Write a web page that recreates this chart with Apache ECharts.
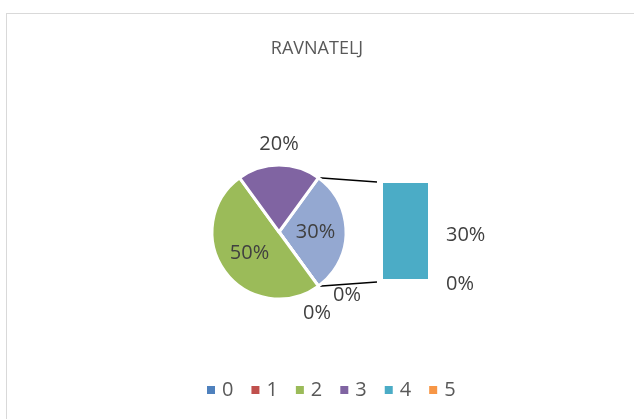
<!DOCTYPE html>
<html><head><meta charset="utf-8">
<script src="https://cdn.jsdelivr.net/npm/echarts@6/dist/echarts.min.js"></script>
<style>
html,body{margin:0;padding:0;background:#fff}
#wrap{position:relative;width:634px;height:419px;overflow:hidden}
#c{width:634px;height:419px}
#frame{position:absolute;left:6px;top:13px;width:700px;height:500px;border:1px solid #d9d9d9;pointer-events:none}
</style>
</head><body><div id="wrap"><div id="c"></div><div id="frame"></div></div>
<script>
// ---- data ----
const categories = ['0', '1', '2', '3', '4', '5'];
const values = [0, 0, 50, 20, 30, 0];           // percent
const secondPlotCats = ['4', '5'];              // split off into the bar
const colors = ['#4F81BD', '#C0504D', '#9BBB59', '#8064A2', '#4BACC6', '#F79646'];
const otherColor = '#94A8D1';
const titleText = 'RAVNATELJ';

// ---- layout ----
const cx = 279, cy = 232, R = 67;
const gLeft = 383, gTop = 183, gW = 45, gH = 96;

const firstIdx = categories.map((c, i) => i).filter(i => !secondPlotCats.includes(categories[i]));
const secondIdx = categories.map((c, i) => i).filter(i => secondPlotCats.includes(categories[i]));
const otherVal = secondIdx.reduce((s, i) => s + values[i], 0);
const total = values.reduce((a, b) => a + b, 0);
const otherDeg = otherVal / total * 360;
const startAngle = otherDeg / 2; // ECharts angle (ccw from 3 o'clock)

const pieData = [{ name: 'Other', value: otherVal, itemStyle: { color: otherColor }, label: { position: 'inside' } }]
  .concat(firstIdx.map(i => ({
    name: categories[i], value: values[i], itemStyle: { color: colors[i] },
    label: { position: values[i] / total > 0.25 ? 'inside' : 'outside' }
  })));

// angular positions (clockwise from 12 o'clock) for outside labels
const midAngles = [];
let acc = 90 - startAngle;
pieData.forEach(d => { const a = d.value / total * 360; midAngles.push(acc + a / 2); acc += a; });
let zeroCount = 0;
const labelPos = pieData.map((d, k) => {
  if (d.label.position === 'inside') return null;
  let ang = midAngles[k], dist = R + 21;
  if (d.value === 0) { ang += (zeroCount === 0 ? -11 : 11); dist = R + (zeroCount === 0 ? 26 : 23); zeroCount++; }
  const rad = ang * Math.PI / 180;
  return { x: cx + dist * Math.sin(rad), y: cy - dist * Math.cos(rad) };
});

const txt = '#404040';
const font = "'Open Sans', sans-serif";

const barSeries = secondIdx.slice().reverse().map(i => ({
  type: 'bar', name: categories[i], stack: 's', data: [values[i]],
  barWidth: '100%', itemStyle: { color: colors[i] },
  label: { show: true, position: 'right', distance: 18, color: txt, fontSize: 20, fontFamily: font,
    formatter: p => p.value + '%', offset: values[i] === 0 ? [0, 5] : [0, 4] }
}));

const rad54 = startAngle * Math.PI / 180;
const chart = echarts.init(document.getElementById('c'));
chart.setOption({
  animation: false,
  backgroundColor: '#fff',
  title: { text: titleText, left: 'center', top: 35, textStyle: { fontFamily: font, fontSize: 18, fontWeight: 'normal', color: '#595959' } },
  legend: {
    data: categories, top: 375, left: 202, itemWidth: 8, itemHeight: 8, itemGap: 18, icon: 'rect',
    itemStyle: { borderWidth: 0 },
    textStyle: { fontFamily: font, fontSize: 20, color: '#595959', padding: [0, 0, 0, 2] }
  },
  grid: { left: gLeft, top: gTop, width: gW, height: gH },
  xAxis: { type: 'category', data: [''], show: false },
  yAxis: { type: 'value', min: 0, max: otherVal, show: false },
  series: [{
    type: 'pie', center: [cx, cy], radius: R, startAngle: startAngle, clockwise: true,
    avoidLabelOverlap: false,
    itemStyle: { borderColor: '#fff', borderWidth: 3 },
    label: { color: txt, fontSize: 20, fontFamily: font, formatter: p => p.value + '%' },
    labelLine: { show: false },
    labelLayout: p => {
      const lp = labelPos[p.dataIndex];
      if (!lp) return {};
      return { x: lp.x, y: lp.y, align: 'center', verticalAlign: 'middle' };
    },
    data: pieData
  }].concat(barSeries),
  graphic: [
    { type: 'line', shape: { x1: cx + R * Math.cos(rad54), y1: cy - R * Math.sin(rad54), x2: gLeft - 6, y2: gTop - 1 }, style: { stroke: '#000', lineWidth: 1.5 } },
    { type: 'line', shape: { x1: cx + R * Math.cos(rad54), y1: cy + R * Math.sin(rad54), x2: gLeft - 6, y2: gTop + gH + 3 }, style: { stroke: '#000', lineWidth: 1.5 } }
  ]
});
</script></body></html>
